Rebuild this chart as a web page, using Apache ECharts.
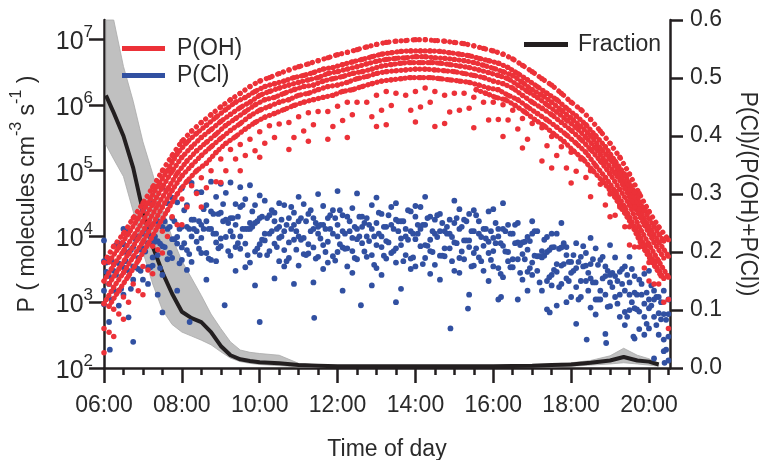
<!DOCTYPE html>
<html>
<head>
<meta charset="utf-8">
<script src="https://cdn.jsdelivr.net/npm/echarts@6/dist/echarts.min.js"></script>
<style>
html,body{margin:0;padding:0;background:#fff;}
#chart{width:761px;height:460px;}
</style>
</head>
<body>
<div id="chart"></div>
<script>
// ---- time grids (hours of day) ----
const tA = [6, 6.25, 6.5, 6.75, 7, 7.25, 7.5, 7.75, 8, 8.25, 8.5, 8.75, 9, 9.25, 9.5, 9.75, 10, 10.25, 10.5, 10.75, 11, 11.25, 11.5, 11.75, 12, 12.25, 12.5, 12.75, 13, 13.25, 13.5, 13.75, 14, 14.25, 14.5, 14.75, 15, 15.25, 15.5, 15.75, 16, 16.25, 16.5, 16.75, 17, 17.25, 17.5, 17.75, 18, 18.25, 18.5, 18.75, 19, 19.25, 19.5, 19.75, 20, 20.25, 20.5];
const tB = [6.13, 6.38, 6.63, 6.88, 7.13, 7.38, 7.63, 7.88, 8.13, 8.38, 8.63, 8.88, 9.13, 9.38, 9.63, 9.88, 10.13, 10.38, 10.63, 10.88, 11.13, 11.38, 11.63, 11.88, 12.13, 12.38, 12.63, 12.88, 13.13, 13.38, 13.63, 13.88, 14.13, 14.38, 14.63, 14.88, 15.13, 15.38, 15.63, 15.88, 16.13, 16.38, 16.63, 16.88, 17.13, 17.38, 17.63, 17.88, 18.13, 18.38, 18.63, 18.88, 19.13, 19.38, 19.63, 19.88, 20.13, 20.38];
const tC = [6.06, 6.31, 6.56, 6.81, 7.06, 7.31, 7.56, 7.81, 8.06, 8.31, 8.56, 8.81, 9.06, 9.31, 9.56, 9.81, 10.06, 10.31, 10.56, 10.81, 11.06, 11.31, 11.56, 11.81, 12.06, 12.31, 12.56, 12.81, 13.06, 13.31, 13.56, 13.81, 14.06, 14.31, 14.56, 14.81, 15.06, 15.31, 15.56, 15.81, 16.06, 16.31, 16.56, 16.81, 17.06, 17.31, 17.56, 17.81, 18.06, 18.31, 18.56, 18.81, 19.06, 19.31, 19.56, 19.81, 20.06, 20.31];
const tD = [6.19, 6.44, 6.69, 6.94, 7.19, 7.44, 7.69, 7.94, 8.19, 8.44, 8.69, 8.94, 9.19, 9.44, 9.69, 9.94, 10.19, 10.44, 10.69, 10.94, 11.19, 11.44, 11.69, 11.94, 12.19, 12.44, 12.69, 12.94, 13.19, 13.44, 13.69, 13.94, 14.19, 14.44, 14.69, 14.94, 15.19, 15.44, 15.69, 15.94, 16.19, 16.44, 16.69, 16.94, 17.19, 17.44, 17.69, 17.94, 18.19, 18.44, 18.69, 18.94, 19.19, 19.44, 19.69, 19.94, 20.19, 20.44];

// ---- P(OH) (molecules cm-3 s-1): dense daily tracks ----
const ohA1 = [4.0e3, 7.1e3, 1.1e4, 1.9e4, 3.2e4, 5.6e4, 1.0e5, 1.7e5, 2.8e5, 4.0e5, 5.4e5, 7.1e5, 9.3e5, 1.2e6, 1.5e6, 1.9e6, 2.3e6, 2.6e6, 3.0e6, 3.4e6, 3.8e6, 4.2e6, 4.7e6, 5.2e6, 5.8e6, 6.3e6, 6.9e6, 7.6e6, 8.3e6, 8.9e6, 9.3e6, 9.5e6, 9.8e6, 9.8e6, 9.5e6, 9.3e6, 8.9e6, 8.5e6, 7.9e6, 7.2e6, 6.6e6, 5.9e6, 5.0e6, 4.0e6, 3.2e6, 2.5e6, 2.0e6, 1.5e6, 1.1e6, 8.5e5, 6.0e5, 4.0e5, 2.6e5, 1.6e5, 8.9e4, 4.5e4, 2.4e4, 1.4e4, 8.9e3];
const ohB2 = [4.1e3, 6.8e3, 1.1e4, 1.9e4, 3.2e4, 5.9e4, 1.0e5, 1.8e5, 2.7e5, 3.7e5, 4.9e5, 6.5e5, 8.5e5, 1.1e6, 1.3e6, 1.6e6, 1.9e6, 2.1e6, 2.3e6, 2.6e6, 2.8e6, 3.1e6, 3.5e6, 3.7e6, 4.1e6, 4.5e6, 4.9e6, 5.4e6, 5.9e6, 6.2e6, 6.5e6, 6.6e6, 6.6e6, 6.6e6, 6.5e6, 6.2e6, 5.9e6, 5.6e6, 5.1e6, 4.7e6, 4.3e6, 3.7e6, 3.0e6, 2.4e6, 1.9e6, 1.5e6, 1.2e6, 8.9e5, 6.8e5, 5.0e5, 3.4e5, 2.3e5, 1.4e5, 8.7e4, 4.7e4, 2.5e4, 1.4e4, 8.5e3];
const ohA3 = [2.1e3, 3.7e3, 6.0e3, 1.0e4, 1.7e4, 3.1e4, 5.6e4, 9.8e4, 1.6e5, 2.3e5, 3.2e5, 4.2e5, 5.6e5, 7.2e5, 9.1e5, 1.1e6, 1.4e6, 1.6e6, 1.8e6, 2.0e6, 2.2e6, 2.4e6, 2.6e6, 3.0e6, 3.2e6, 3.5e6, 3.8e6, 4.2e6, 4.6e6, 4.9e6, 5.1e6, 5.2e6, 5.4e6, 5.4e6, 5.2e6, 5.1e6, 4.9e6, 4.7e6, 4.4e6, 4.0e6, 3.6e6, 3.2e6, 2.8e6, 2.2e6, 1.7e6, 1.4e6, 1.1e6, 8.3e5, 6.3e5, 4.7e5, 3.4e5, 2.2e5, 1.5e5, 9.1e4, 5.1e4, 2.6e4, 1.4e4, 8.3e3, 5.0e3];
const ohB4 = [1.9e3, 3.2e3, 5.5e3, 9.3e3, 1.6e4, 3.0e4, 5.2e4, 9.1e4, 1.4e5, 2.0e5, 2.7e5, 3.6e5, 4.9e5, 6.2e5, 7.9e5, 1.0e6, 1.2e6, 1.3e6, 1.5e6, 1.7e6, 1.9e6, 2.0e6, 2.3e6, 2.5e6, 2.7e6, 3.0e6, 3.2e6, 3.5e6, 3.9e6, 4.1e6, 4.3e6, 4.4e6, 4.4e6, 4.4e6, 4.3e6, 4.1e6, 3.9e6, 3.7e6, 3.4e6, 3.1e6, 2.8e6, 2.5e6, 2.0e6, 1.6e6, 1.3e6, 1.0e6, 7.8e5, 5.9e5, 4.5e5, 3.2e5, 2.2e5, 1.4e5, 9.1e4, 5.4e4, 2.8e4, 1.5e4, 8.1e3, 4.7e3];
const ohA5 = [9.5e2, 1.7e3, 2.8e3, 4.9e3, 8.3e3, 1.5e4, 2.8e4, 5.0e4, 8.3e4, 1.2e5, 1.7e5, 2.3e5, 3.1e5, 4.1e5, 5.2e5, 6.8e5, 8.3e5, 9.5e5, 1.1e6, 1.2e6, 1.4e6, 1.5e6, 1.7e6, 1.9e6, 2.0e6, 2.2e6, 2.5e6, 2.7e6, 3.0e6, 3.2e6, 3.3e6, 3.4e6, 3.5e6, 3.5e6, 3.4e6, 3.3e6, 3.2e6, 3.0e6, 2.8e6, 2.6e6, 2.3e6, 2.1e6, 1.8e6, 1.4e6, 1.1e6, 8.9e5, 7.1e5, 5.4e5, 4.1e5, 3.0e5, 2.1e5, 1.4e5, 8.9e4, 5.2e4, 3.0e4, 1.4e4, 7.6e3, 4.2e3, 2.4e3];
const ohB6 = [8.7e2, 1.5e3, 2.5e3, 4.3e3, 7.6e3, 1.4e4, 2.5e4, 4.4e4, 6.9e4, 1.0e5, 1.3e5, 1.9e5, 2.6e5, 3.3e5, 4.3e5, 5.4e5, 6.5e5, 7.4e5, 8.5e5, 9.8e5, 1.1e6, 1.2e6, 1.3e6, 1.4e6, 1.6e6, 1.7e6, 1.9e6, 2.1e6, 2.3e6, 2.4e6, 2.5e6, 2.6e6, 2.6e6, 2.6e6, 2.5e6, 2.4e6, 2.3e6, 2.2e6, 2.0e6, 1.8e6, 1.7e6, 1.4e6, 1.2e6, 9.3e5, 7.4e5, 5.9e5, 4.6e5, 3.5e5, 2.6e5, 1.9e5, 1.2e5, 7.9e4, 4.9e4, 2.8e4, 1.4e4, 7.4e3, 4.1e3, 2.3e3];
const ohC7 = [null, null, null, null, null, null, null, null, null, null, null, null, null, null, null, null, null, null, null, null, null, null, null, null, null, null, null, null, null, null, null, null, null, null, null, null, null, null, 1.7e6, 1.5e6, 1.3e6, 1.2e6, 9.8e5, 7.8e5, 6.0e5, 4.8e5, 3.6e5, 2.8e5, 2.0e5, 1.5e5, 1.0e5, 6.9e4, 4.5e4, 2.6e4, 1.5e4, 7.4e3, 4.2e3, 2.5e3];
// ---- P(OH): sparse lower points ----
const ohA7 = [4.0e2, 7.8e2, 1.2e3, 1.9e3, 3.5e3, 7.1e3, 1.2e4, 2.0e4, 3.7e4, 5.9e4, 7.8e4, 1.0e5, 1.5e5, 2.1e5, 2.5e5, 3.0e5, 3.9e5, 4.8e5, 5.1e5, 5.4e5, 6.6e5, 7.6e5, 7.9e5, 7.9e5, 9.5e5, 1.1e6, 1.1e6, 1.1e6, 1.4e6, 1.6e6, 1.5e6, 1.4e6, 1.6e6, 1.8e6, 1.6e6, 1.4e6, 1.5e6, 1.5e6, 1.3e6, 1.1e6, 1.1e6, 1.0e6, 8.3e5, 6.2e5, 5.2e5, 4.5e5, 3.3e5, 2.3e5, 1.9e5, 1.5e5, 1.0e5, 6.2e4, 4.4e4, 2.8e4, 1.4e4, 6.9e3, 4.0e3, 1.9e3, 1.1e3];
const ohB8 = [3.5e2, 6.6e2, 1.0e3, 1.5e3, 3.1e3, 6.3e3, 1.0e4, 1.5e4, 2.8e4, 4.5e4, 5.5e4, 6.8e4, 1.0e5, 1.5e5, 1.7e5, 2.0e5, 2.6e5, 3.2e5, null, 3.2e5, 4.0e5, 5.0e5, null, 4.7e5, 5.8e5, 7.1e5, null, 6.6e5, 8.3e5, 9.8e5, null, 8.3e5, 9.3e5, 1.1e6, null, 7.8e5, 8.3e5, 8.9e5, null, 5.9e5, 6.0e5, 5.9e5, 4.3e5, 3.0e5, null, 2.4e5, 1.7e5, 1.1e5, 9.8e4, 7.9e4, null, 3.0e4, 2.1e4, 1.4e4, 6.9e3, 3.3e3, 1.9e3, 1.0e3];
const ohA9 = [1.7e2, 3.0e2, 5.5e2, null, 1.3e3, 2.7e3, 5.6e3, null, 1.5e4, null, 2.8e4, null, 6.6e4, null, 1.0e5, null, 1.6e5, null, null, 2.1e5, null, 2.8e5, null, 3.0e5, null, 3.2e5, null, null, 4.7e5, 5.0e5, null, null, 5.5e5, null, 4.7e5, 5.2e5, null, null, 4.5e5, null, null, 3.3e5, null, 2.2e5, null, 1.4e5, 1.1e5, null, 6.5e4, null, 4.0e4, null, 2.0e4, null, 7.4e3, null, 2.1e3, null, 4.0e2];

// ---- P(Cl) (molecules cm-3 s-1) ----
const clA1 = [8.7e3, null, 1.3e4, null, 2.5e4, 3.2e4, 5.5e4, 3.9e4, 5.4e4, 6.5e4, 4.7e4, 6.8e4, 6.3e4, 6.6e4, 5.6e4, 6.0e4, 4.2e4, null, 3.2e4, null, 4.0e4, null, 4.4e4, null, 4.9e4, null, 4.5e4, null, 3.9e4, null, 3.2e4, null, 2.9e4, 4.0e4, null, null, 3.5e4, null, 2.5e4, null, 2.6e4, 3.2e4, null, null, 1.7e4, null, 1.1e4, 1.6e4, null, null, 9.5e3, null, 7.4e3, null, 4.9e3, null, 3.0e3, null, 1.1e3];
const clB2 = [4.6e3, 7.9e3, 1.2e4, 1.0e4, 1.5e4, 1.7e4, 3.2e4, 3.3e4, 3.0e4, 4.7e4, 3.0e4, 4.0e4, 4.6e4, 3.1e4, 3.7e4, 3.0e4, 3.5e4, 2.3e4, 3.0e4, 2.3e4, 3.1e4, 1.9e4, 2.9e4, 2.5e4, 2.1e4, 2.7e4, 2.0e4, 3.0e4, 2.2e4, 2.8e4, 1.7e4, 2.4e4, 2.8e4, 2.0e4, 2.2e4, 1.8e4, 2.6e4, 2.2e4, 1.7e4, 2.4e4, 1.3e4, 1.5e4, 1.6e4, 9.8e3, 1.2e4, 9.8e3, 1.1e4, 6.9e3, 7.9e3, 5.6e3, 6.6e3, 3.5e3, 4.8e3, 3.5e3, 2.5e3, 2.7e3, 1.5e3, 1.5e3];
const clA3 = [4.2e3, 3.9e3, 7.6e3, 6.9e3, 1.1e4, 8.5e3, 1.4e4, 1.9e4, 1.4e4, 1.8e4, 1.5e4, 2.4e4, 2.3e4, 1.9e4, 2.8e4, 1.6e4, 1.9e4, 2.1e4, 1.4e4, 1.9e4, 1.7e4, 2.2e4, 1.4e4, 1.9e4, 1.5e4, 2.0e4, 1.3e4, 1.9e4, 1.6e4, 1.4e4, 1.8e4, 1.3e4, 2.0e4, 1.5e4, 1.8e4, 1.2e4, 1.6e4, 1.8e4, 1.2e4, 1.3e4, 9.5e3, 1.3e4, 1.1e4, 8.1e3, 1.1e4, 6.0e3, 6.8e3, 6.8e3, 4.1e3, 4.9e3, 3.8e3, 4.4e3, 2.6e3, 2.9e3, 2.0e3, 2.2e3, 1.1e3, 1.2e3, 6.6e2];
const clB4 = [2.5e3, 3.9e3, 5.5e3, 4.7e3, 7.9e3, 8.5e3, 1.3e4, 9.8e3, 1.4e4, 1.2e4, 1.7e4, 1.1e4, 1.8e4, 1.5e4, 1.3e4, 1.6e4, 1.1e4, 1.7e4, 1.2e4, 1.5e4, 9.5e3, 1.3e4, 1.5e4, 1.1e4, 1.2e4, 9.5e3, 1.4e4, 1.3e4, 1.0e4, 1.5e4, 9.3e3, 1.2e4, 1.3e4, 8.9e3, 1.2e4, 1.1e4, 1.3e4, 8.7e3, 1.1e4, 8.3e3, 1.0e4, 5.8e3, 8.1e3, 6.3e3, 5.0e3, 5.8e3, 3.8e3, 5.2e3, 3.3e3, 3.6e3, 2.0e3, 2.5e3, 2.5e3, 1.5e3, 1.4e3, 9.5e2, 1.1e3, 6.6e2];
const clA5 = [1.5e3, 3.0e3, 3.4e3, 3.5e3, 6.5e3, 4.8e3, 7.1e3, 9.1e3, 6.8e3, 1.0e4, 9.5e3, 1.3e4, 9.3e3, 1.2e4, 1.0e4, 1.3e4, 7.6e3, 1.1e4, 9.5e3, 8.1e3, 1.0e4, 7.6e3, 1.1e4, 8.3e3, 1.0e4, 6.6e3, 9.1e3, 1.0e4, 7.4e3, 8.5e3, 6.6e3, 1.0e4, 9.1e3, 7.4e3, 1.1e4, 6.6e3, 8.1e3, 8.7e3, 5.6e3, 7.2e3, 6.0e3, 7.2e3, 4.5e3, 5.4e3, 4.0e3, 4.8e3, 2.6e3, 3.6e3, 2.8e3, 2.1e3, 2.3e3, 1.5e3, 2.0e3, 1.3e3, 1.3e3, 7.2e2, 8.1e2, 6.8e2, 3.0e2];
const clB6 = [1.9e3, 1.5e3, 3.0e3, 3.2e3, 3.4e3, 5.2e3, 4.5e3, 7.8e3, 6.2e3, 8.3e3, 5.6e3, 8.1e3, 9.8e3, 6.9e3, 7.8e3, 5.9e3, 8.7e3, 7.8e3, 6.2e3, 8.9e3, 5.4e3, 6.8e3, 7.4e3, 5.0e3, 6.8e3, 6.0e3, 7.9e3, 5.2e3, 6.9e3, 5.6e3, 7.4e3, 4.6e3, 7.1e3, 6.0e3, 5.1e3, 6.6e3, 4.7e3, 6.9e3, 4.8e3, 5.6e3, 3.3e3, 4.2e3, 4.5e3, 2.9e3, 3.0e3, 2.1e3, 2.9e3, 2.3e3, 1.7e3, 2.1e3, 1.1e3, 1.3e3, 1.2e3, 7.1e2, 8.1e2, 6.0e2, 6.0e2, 2.7e2];
const clA7 = [9.3e2, 1.5e3, 1.3e3, 2.2e3, 2.2e3, 3.6e3, 2.6e3, 4.7e3, 4.4e3, 4.1e3, 5.6e3, 4.4e3, 7.1e3, 5.1e3, 6.5e3, 4.0e3, 5.2e3, 6.0e3, 4.2e3, 4.7e3, 3.6e3, 5.5e3, 4.9e3, 4.0e3, 5.8e3, 3.5e3, 4.5e3, 4.9e3, 3.3e3, 4.6e3, 4.0e3, 5.2e3, 3.5e3, 4.7e3, 3.7e3, 5.0e3, 3.0e3, 4.5e3, 3.6e3, 3.0e3, 3.5e3, 2.4e3, 3.4e3, 2.2e3, 2.6e3, 1.5e3, 1.8e3, 1.9e3, 1.2e3, 1.2e3, 8.3e2, 1.1e3, 8.7e2, 6.0e2, 7.6e2, 3.9e2, 4.0e2, 3.2e2, 1.3e2];
const clB8 = [5.0e2, 8.9e2, 5.9e2, null, 1.9e3, 1.3e3, null, 1.5e3, 3.1e3, null, 2.2e3, 4.2e3, null, 3.0e3, 3.4e3, 1.8e3, null, 2.3e3, 3.5e3, 1.9e3, null, 2.0e3, 3.2e3, null, 1.5e3, 2.8e3, null, 1.8e3, 2.6e3, null, 1.6e3, 3.2e3, null, 2.7e3, 2.2e3, null, 2.8e3, 1.3e3, null, 2.1e3, 1.1e3, null, 1.1e3, 1.5e3, null, 7.8e2, 8.9e2, 1.0e3, 4.7e2, null, 6.5e2, 3.3e2, null, 4.5e2, 2.8e2, 3.2e2, 1.4e2, 1.8e2];
const clC1 = [4.0e3, 7.4e3, 5.8e3, 9.1e3, 1.3e4, 1.0e4, 1.7e4, 1.7e4, 2.5e4, 1.8e4, 2.6e4, 2.2e4, 3.1e4, 1.9e4, 3.0e4, 2.4e4, 2.0e4, 2.5e4, 1.8e4, 2.8e4, 1.9e4, 2.5e4, 1.5e4, 2.1e4, 2.5e4, 1.7e4, 2.0e4, 1.5e4, 2.3e4, 2.1e4, 1.7e4, 2.5e4, 1.5e4, 1.9e4, 2.1e4, 1.4e4, 1.9e4, 1.7e4, 2.1e4, 1.3e4, 1.6e4, 1.2e4, 1.5e4, 8.3e3, 1.2e4, 8.9e3, 6.9e3, 7.9e3, 5.2e3, 7.1e3, 4.5e3, 4.9e3, 2.8e3, 3.2e3, 3.2e3, 1.9e3, 1.8e3, 1.0e3];
const clD2 = [4.4e3, 3.7e3, 6.2e3, 6.3e3, 1.0e4, 7.8e3, 1.4e4, 1.3e4, 1.3e4, 1.7e4, 1.3e4, 2.2e4, 1.6e4, 2.0e4, 1.3e4, 1.7e4, 1.9e4, 1.3e4, 1.5e4, 1.2e4, 1.7e4, 1.6e4, 1.3e4, 1.9e4, 1.1e4, 1.4e4, 1.6e4, 1.0e4, 1.4e4, 1.3e4, 1.7e4, 1.1e4, 1.5e4, 1.2e4, 1.6e4, 9.8e3, 1.4e4, 1.2e4, 9.8e3, 1.2e4, 7.9e3, 1.1e4, 7.4e3, 8.5e3, 5.0e3, 6.2e3, 6.5e3, 4.1e3, 4.1e3, 2.8e3, 3.7e3, 3.0e3, 2.1e3, 2.6e3, 1.3e3, 1.4e3, 1.2e3, 5.4e2];
const clC3 = [2.9e3, 2.6e3, 4.2e3, 3.4e3, 5.9e3, 8.3e3, 6.9e3, 9.1e3, 7.9e3, 1.3e4, 1.3e4, 1.1e4, 1.7e4, 1.0e4, 1.3e4, 1.4e4, 8.9e3, 1.2e4, 1.0e4, 1.3e4, 8.9e3, 1.2e4, 9.3e3, 1.3e4, 7.6e3, 1.2e4, 1.0e4, 8.5e3, 1.1e4, 8.1e3, 1.2e4, 8.9e3, 1.1e4, 7.2e3, 9.8e3, 1.1e4, 7.9e3, 8.7e3, 6.6e3, 9.3e3, 7.9e3, 5.9e3, 7.9e3, 4.5e3, 5.1e3, 5.1e3, 3.1e3, 3.8e3, 3.0e3, 3.5e3, 2.0e3, 2.3e3, 1.7e3, 1.9e3, 1.0e3, 1.3e3, 8.9e2, 5.5e2];
const clD4 = [1.1e3, 1.6e3, 1.6e3, 3.0e3, 3.4e3, 3.3e3, 5.6e3, 3.9e3, 5.4e3, 6.5e3, 4.6e3, 6.6e3, 6.0e3, 7.9e3, 5.2e3, 6.6e3, 5.2e3, 6.9e3, 4.2e3, 6.3e3, 5.2e3, 4.6e3, 5.8e3, 4.3e3, 6.5e3, 4.7e3, 5.9e3, 3.7e3, 5.1e3, 6.0e3, 4.2e3, 4.8e3, 3.8e3, 5.8e3, 5.1e3, 4.2e3, 5.9e3, 3.5e3, 4.2e3, 4.4e3, 2.7e3, 3.4e3, 2.8e3, 3.3e3, 2.0e3, 2.4e3, 1.7e3, 2.1e3, 1.1e3, 1.5e3, 1.1e3, 8.5e2, 9.5e2, 6.0e2, 7.8e2, 4.7e2, 4.5e2, 1.9e2];
const clOutliers = [[6.15, 190], [6.75, 250], [7.5, 700], [8.2, 500], [9.1, 900], [10.0, 500], [11.4, 580], [12.6, 900], [13.5, 1000], [14.9, 400], [15.35, 800], [16.2, 1200], [17.45, 700], [18.4, 270], [18.9, 240], [19.6, 300], [20.4, 120]];

// ---- Fraction P(Cl)/(P(OH)+P(Cl)) with its range band ----
const fracT  = [6.05, 6.25, 6.5, 6.75, 7.0, 7.25, 7.5, 7.75, 8.0, 8.25, 8.5, 8.75, 9.0, 9.25, 9.5, 9.75, 10.0, 10.5, 11.0, 11.5, 12, 13, 14, 15, 16, 17, 17.5, 18, 18.5, 19, 19.35, 19.7, 20.0, 20.25];
const fracV  = [0.47, 0.44, 0.40, 0.345, 0.27, 0.21, 0.165, 0.128, 0.097, 0.086, 0.079, 0.062, 0.038, 0.022, 0.015, 0.012, 0.010, 0.008, 0.005, 0.004, 0.003, 0.003, 0.003, 0.003, 0.003, 0.004, 0.005, 0.006, 0.009, 0.013, 0.019, 0.013, 0.011, 0.006];
const fracHi = [0.60, 0.60, 0.52, 0.46, 0.39, 0.335, 0.275, 0.225, 0.185, 0.155, 0.125, 0.093, 0.068, 0.045, 0.031, 0.027, 0.025, 0.022, 0.008, 0.005, 0.004, 0.004, 0.004, 0.004, 0.004, 0.006, 0.007, 0.009, 0.013, 0.021, 0.034, 0.022, 0.016, 0.008];
const fracLo = [0.385, 0.36, 0.33, 0.27, 0.20, 0.145, 0.10, 0.075, 0.062, 0.055, 0.048, 0.040, 0.028, 0.017, 0.011, 0.008, 0.006, 0.004, 0.002, 0.001, 0.001, 0.001, 0.001, 0.001, 0.001, 0.002, 0.002, 0.003, 0.005, 0.007, 0.009, 0.007, 0.005, 0.003];

// ---- ticks ----
const xMajorTicks = [6, 8, 10, 12, 14, 16, 18, 20];
const xMinorTicks = [6.5, 7, 7.5, 8.5, 9, 9.5, 10.5, 11, 11.5, 12.5, 13, 13.5, 14.5, 15, 15.5, 16.5, 17, 17.5, 18.5, 19, 19.5, 20.5];
const yLogTicks = [1e2, 1e3, 1e4, 1e5, 1e6, 1e7];

const FONT = 'Liberation Sans, Arial, Helvetica, sans-serif';
const INK = '#231f20';
const TXT = '#2a2a2a';
const RED = '#ec3138';
const BLUE = '#3150a1';

function pairs(ts, vs) {
  const out = [];
  for (let i = 0; i < ts.length; i++) if (vs[i] != null) out.push([ts[i], vs[i]]);
  return out;
}
function pairsKeepGaps(ts, vs) {
  return ts.map((t, i) => [t, vs[i] == null ? '-' : vs[i]]);
}
const ohTracks = [[tA, ohA1, 6.0], [tB, ohB2, 4.6], [tA, ohA3, 4.6], [tB, ohB4, 4.6], [tA, ohA5, 4.6], [tB, ohB6, 4.6], [tC, ohC7, 4.6]];
const ohSparse = [].concat(pairs(tA, ohA7), pairs(tB, ohB8), pairs(tA, ohA9));
const clData = [].concat(pairs(tA, clA1), pairs(tB, clB2), pairs(tA, clA3), pairs(tB, clB4),
  pairs(tA, clA5), pairs(tB, clB6), pairs(tA, clA7), pairs(tB, clB8),
  pairs(tC, clC1), pairs(tD, clD2), pairs(tC, clC3), pairs(tD, clD4), clOutliers);
const fracLine = fracT.map((t, i) => [t, fracV[i]]);

const chart = echarts.init(document.getElementById('chart'), null, {renderer: 'canvas'});
const axisLineStyle = {color: INK, width: 2.5};
const richLabel = {
  b: {fontSize: 25, color: TXT, fontFamily: FONT, lineHeight: 31, verticalAlign: 'bottom'},
  s: {fontSize: 17, color: TXT, fontFamily: FONT, verticalAlign: 'top'}
};
const richName = {
  b: {fontSize: 23, color: TXT, fontFamily: FONT, lineHeight: 30, verticalAlign: 'bottom'},
  s: {fontSize: 16, color: TXT, fontFamily: FONT, verticalAlign: 'top'}
};

const ohTrackSeries = ohTracks.map(([ts, vs, gap]) => ({
  name: 'P(OH)', type: 'line', xAxisIndex: 0, yAxisIndex: 0, z: 4,
  data: pairsKeepGaps(ts, vs), symbol: 'circle', symbolSize: 5.2, showSymbol: true, showAllSymbol: true,
  itemStyle: {color: RED}, lineStyle: {color: RED, width: 5.2, type: [0.1, gap], cap: 'round'},
  connectNulls: false, silent: true
}));

chart.setOption({
  animation: false,
  backgroundColor: '#fff',
  textStyle: {fontFamily: FONT},
  grid: {left: 104, right: 91, top: 20, bottom: 92, containLabel: false, outerBoundsMode: 'none'},
  legend: [
    {
      data: [{name: 'P(OH)', icon: 'rect'}, {name: 'P(Cl)', icon: 'rect'}],
      orient: 'vertical', left: 117, top: 32, itemWidth: 43, itemHeight: 5, itemGap: 4,
      textStyle: {fontSize: 23, color: TXT, fontFamily: FONT, padding: [0, 0, 0, 7]},
      selectedMode: false
    },
    {
      data: [{name: 'Fraction', icon: 'rect'}],
      left: 519, top: 28, itemWidth: 44, itemHeight: 5,
      textStyle: {fontSize: 23, color: TXT, fontFamily: FONT, padding: [0, 0, 0, 5]},
      selectedMode: false
    }
  ],
  xAxis: [
    {
      type: 'value', min: 6, max: 20.54, interval: 2, position: 'bottom',
      axisLine: {show: true, onZero: false, lineStyle: axisLineStyle},
      axisTick: {show: true, customValues: xMajorTicks, length: 15, lineStyle: axisLineStyle},
      axisLabel: {customValues: xMajorTicks, fontSize: 23, color: TXT, fontFamily: FONT, margin: 26,
        formatter: v => (v < 10 ? '0' : '') + Math.round(v) + ':00'},
      splitLine: {show: false},
      name: 'Time of day', nameLocation: 'middle', nameGap: 70,
      nameTextStyle: {fontSize: 23, color: TXT, fontFamily: FONT}
    },
    {
      type: 'value', min: 6, max: 20.54, position: 'bottom',
      axisLine: {show: false},
      axisTick: {show: true, customValues: xMinorTicks, length: 7, lineStyle: axisLineStyle},
      axisLabel: {show: false},
      splitLine: {show: false}
    }
  ],
  yAxis: [
    {
      type: 'log', logBase: 10, min: 100, max: 1.95e7, position: 'left',
      axisLine: {show: true, lineStyle: axisLineStyle},
      axisTick: {show: true, customValues: yLogTicks, length: 15, lineStyle: axisLineStyle},
      axisLabel: {
        customValues: yLogTicks, margin: 11, color: TXT, fontFamily: FONT,
        formatter: v => '{b|10}{s|' + Math.round(Math.log10(v)) + '}',
        rich: richLabel
      },
      splitLine: {show: false},
      minorTick: {show: false},
      name: '{b|P ( molecules cm}{s|-3}{b| s}{s|-1}{b| )}',
      nameLocation: 'middle', nameGap: 65,
      nameTextStyle: {color: TXT, fontFamily: FONT, rich: richName}
    },
    {
      type: 'value', min: 0, max: 0.6, interval: 0.1, position: 'right',
      axisLine: {show: true, lineStyle: axisLineStyle},
      axisTick: {show: true, length: 13, lineStyle: axisLineStyle},
      axisLabel: {fontSize: 23, color: TXT, fontFamily: FONT, margin: 20, formatter: v => v.toFixed(1)},
      splitLine: {show: false},
      name: 'P(Cl)/(P(OH)+P(Cl))', nameLocation: 'middle', nameRotate: -90, nameGap: 66,
      nameTextStyle: {fontSize: 23, color: TXT, fontFamily: FONT}
    }
  ],
  series: [
    {
      name: 'band', type: 'custom', xAxisIndex: 0, yAxisIndex: 1, z: 1, silent: true,
      data: [[fracT[0], fracV[0]]],
      renderItem: function (params, api) {
        const pts = [];
        for (let i = 0; i < fracT.length; i++) pts.push(api.coord([fracT[i], fracHi[i]]));
        for (let i = fracT.length - 1; i >= 0; i--) pts.push(api.coord([fracT[i], fracLo[i]]));
        return {type: 'polygon', shape: {points: pts},
          style: {fill: '#c0c0c0', stroke: '#a9a9a9', lineWidth: 0.8}};
      }
    },
    {
      name: 'Fraction', type: 'line', xAxisIndex: 0, yAxisIndex: 1, z: 2,
      data: fracLine, symbol: 'none', itemStyle: {color: INK},
      lineStyle: {color: INK, width: 4}
    },
    {
      name: 'P(Cl)', type: 'scatter', xAxisIndex: 0, yAxisIndex: 0, z: 3,
      data: clData, symbolSize: 5.8, itemStyle: {color: BLUE, opacity: 1}
    },
    {
      name: 'P(OH)', type: 'scatter', xAxisIndex: 0, yAxisIndex: 0, z: 4,
      data: ohSparse, symbolSize: 5.5, itemStyle: {color: RED, opacity: 1}
    }
  ].concat(ohTrackSeries)
});
</script>
</body>
</html>
